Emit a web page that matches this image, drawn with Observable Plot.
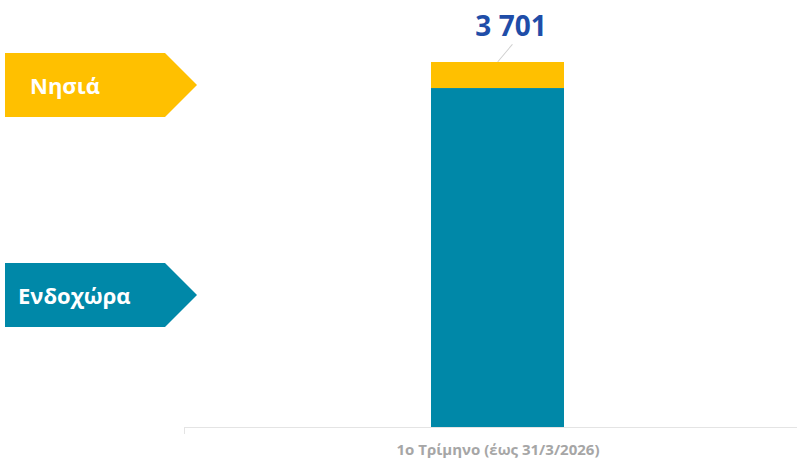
<!DOCTYPE html>
<html>
<head>
<meta charset="utf-8">
<script src="https://cdn.jsdelivr.net/npm/d3@7"></script>
<script src="https://cdn.jsdelivr.net/npm/@observablehq/plot@0.6"></script>
<style>
  html, body { margin: 0; padding: 0; background: #fff; }
  #wrap { position: relative; width: 797px; height: 461px; font-family: "Open Sans", sans-serif; }
  #wrap > svg { position: absolute; left: 0; top: 0; }
</style>
</head>
<body>
<div id="wrap"></div>
<script>
// Data
const categories = ["1ο Τρίμηνο (έως 31/3/2026)"];
const seriesNames = ["Ενδοχώρα", "Νησιά"];
const seriesColors = ["#0088A8", "#FFC000"];
const endoxoraValues = [3437];
const nisiaValues = [264];
const totalLabels = ["3 701"];

const rows = [];
categories.forEach((c, i) => {
  rows.push({cat: c, series: seriesNames[0], value: endoxoraValues[i]});
  rows.push({cat: c, series: seriesNames[1], value: nisiaValues[i]});
});
const totals = categories.map((c, i) => ({cat: c, total: endoxoraValues[i] + nisiaValues[i], label: totalLabels[i]}));

const leaderShape = {
  draw(context, l) { context.moveTo(0, 0); context.lineTo(0, -l); }
};

const chart = Plot.plot({
  width: 797,
  height: 461,
  marginLeft: 184,
  marginRight: 0,
  marginTop: 62,
  marginBottom: 34,
  style: {fontFamily: "Open Sans, sans-serif", background: "transparent"},
  x: {domain: categories, range: [431, 564], padding: 0, axis: null},
  y: {domain: [0, 3701], axis: null},
  color: {domain: seriesNames, range: seriesColors},
  marks: [
    Plot.barY(rows, {x: "cat", y: "value", fill: "series", order: seriesNames, insetLeft: 0, insetRight: 0}),
    Plot.ruleY([0], {stroke: "#e4e4e4", strokeWidth: 1.2}),
    Plot.vector(totals, {x: "cat", y: "total", anchor: "start", length: 22, rotate: 40, shape: leaderShape, stroke: "#d0d0d0", strokeWidth: 1, dy: -1}),
    Plot.text(totals, {x: "cat", y: "total", text: "label", dx: 13, dy: -35, fill: "#1F4DA8", fontSize: 28, fontWeight: "bold"}),
    Plot.text(categories, {x: d => d, y: [0], text: d => d, dy: 23, fill: "#A6A6A6", fontSize: 15, fontWeight: "bold"})
  ]
});
document.getElementById("wrap").appendChild(chart);

// small left tick at axis start
d3.select(chart).append("line")
  .attr("x1", 184.5).attr("x2", 184.5).attr("y1", 427).attr("y2", 434)
  .attr("stroke", "#e4e4e4").attr("stroke-width", 1);

// Legend overlay (arrow tags)
const legendTops = [263, 53];
const legendTextX = [18, 30];
const legend = d3.select("#wrap").append("svg")
  .attr("width", 210).attr("height", 461)
  .style("font-family", "Open Sans, sans-serif");
seriesNames.forEach((name, i) => {
  const t = legendTops[i], h = 64, x0 = 5, xc = 165, xp = 197;
  legend.append("path")
    .attr("d", `M${x0},${t}H${xc}L${xp},${t + h / 2}L${xc},${t + h}H${x0}Z`)
    .attr("fill", seriesColors[i]);
  legend.append("text")
    .attr("x", legendTextX[i]).attr("y", t + h / 2 + 9)
    .attr("fill", "#fff").attr("font-size", 22).attr("font-weight", "bold")
    .text(name);
});
</script>
</body>
</html>
